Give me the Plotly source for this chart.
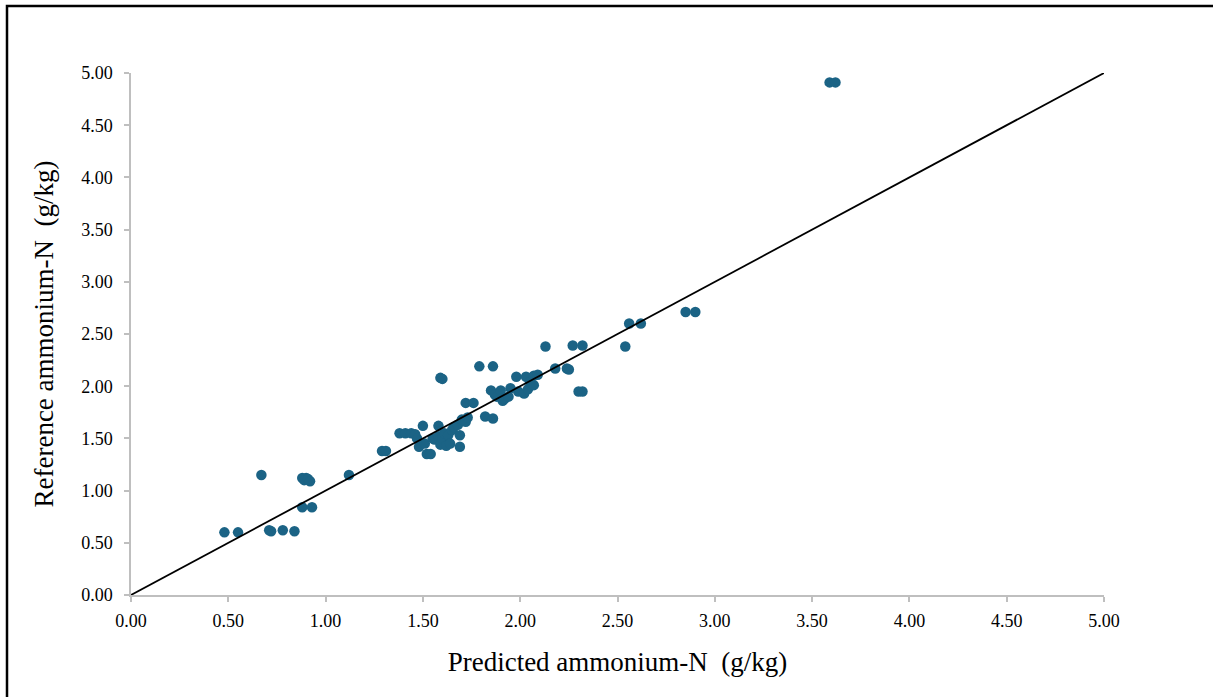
import plotly.graph_objects as go

predicted = [0.48, 0.55, 0.67, 0.71, 0.72, 0.78, 0.84, 0.88, 0.93, 0.88, 0.90, 0.89, 0.91, 0.92,
             1.12, 1.29, 1.31, 1.38, 1.41, 1.44, 1.46, 1.47, 1.48, 1.50, 1.51, 1.52, 1.54, 1.55,
             1.56, 1.58, 1.58, 1.59, 1.60, 1.59, 1.60, 1.61, 1.62, 1.63, 1.64, 1.65, 1.66, 1.68,
             1.69, 1.69, 1.70, 1.72, 1.73, 1.72, 1.76, 1.79, 1.82, 1.86, 1.86, 1.85, 1.87, 1.88,
             1.90, 1.91, 1.92, 1.94, 1.95, 1.98, 1.99, 2.02, 2.03, 2.04, 2.05, 2.07, 2.07, 2.09,
             2.13, 2.18, 2.24, 2.25, 2.27, 2.30, 2.32, 2.32, 2.54, 2.56, 2.62, 2.85, 2.90, 3.59, 3.62]
reference = [0.60, 0.60, 1.15, 0.62, 0.61, 0.62, 0.61, 0.84, 0.84, 1.12, 1.12, 1.10, 1.11, 1.09,
             1.15, 1.38, 1.38, 1.55, 1.55, 1.55, 1.54, 1.50, 1.42, 1.62, 1.45, 1.35, 1.35, 1.50,
             1.49, 1.52, 1.62, 1.44, 1.50, 2.08, 2.07, 1.55, 1.43, 1.53, 1.45, 1.58, 1.61, 1.63,
             1.42, 1.53, 1.68, 1.66, 1.70, 1.84, 1.84, 2.19, 1.71, 1.69, 2.19, 1.96, 1.92, 1.90,
             1.96, 1.86, 1.88, 1.90, 1.98, 2.09, 1.95, 1.93, 2.09, 1.97, 2.04, 2.01, 2.10, 2.11,
             2.38, 2.17, 2.17, 2.16, 2.39, 1.95, 1.95, 2.39, 2.38, 2.60, 2.60, 2.71, 2.71, 4.91, 4.91]
line_x = [0, 5]
line_y = [0, 5]
tick_vals = [0, 0.5, 1, 1.5, 2, 2.5, 3, 3.5, 4, 4.5, 5]

fig = go.Figure()
fig.add_trace(go.Scatter(x=predicted, y=reference, mode="markers",
                         marker=dict(color="#1B6385", size=10.5), showlegend=False, cliponaxis=False))
fig.add_trace(go.Scatter(x=line_x, y=line_y, mode="lines",
                         line=dict(color="black", width=1.8), showlegend=False))

font_family = "Liberation Serif, Times New Roman, DejaVu Serif, serif"
axis_common = dict(range=[0, 5], tickvals=tick_vals, tickformat=".2f", showgrid=False, zeroline=False,
                   showline=True, linecolor="#BFBFBF", linewidth=1.5, ticks="outside",
                   tickcolor="#BFBFBF", ticklen=5, tickwidth=1.5,
                   tickfont=dict(family=font_family, size=18, color="black"))

fig.update_layout(
    width=1213, height=697,
    margin=dict(l=131, r=109, t=73, b=102),
    plot_bgcolor="white", paper_bgcolor="white",
    font=dict(family=font_family),
    xaxis=dict(**axis_common, ticklabelstandoff=4,
               title=dict(text="Predicted ammonium-N  (g/kg)",
                          font=dict(family=font_family, size=27, color="black"),
                          standoff=22)),
    yaxis=dict(**axis_common, ticklabelstandoff=8,
               title=dict(text="Reference ammonium-N  (g/kg)",
                          font=dict(family=font_family, size=27, color="black"),
                          standoff=20)),
    shapes=[dict(type="rect", xref="paper", yref="paper",
                 x0=(7 - 131) / 973, x1=1.5, y0=-0.5, y1=(595 - 6) / 522,
                 line=dict(color="black", width=2.5), layer="above")],
)

fig.write_html("out.html")
